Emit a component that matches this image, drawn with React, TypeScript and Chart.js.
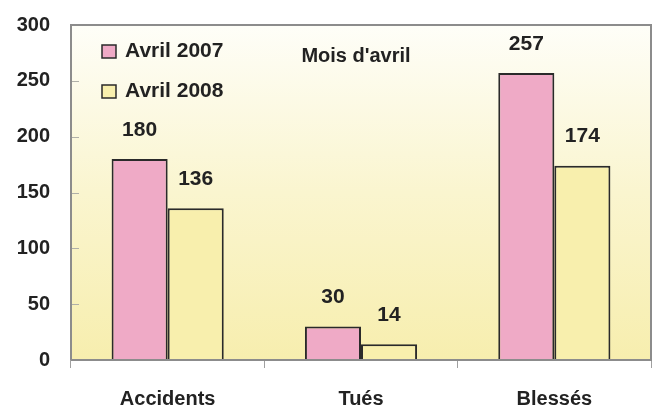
import React, { useEffect, useRef } from "react";
import { Chart, registerables } from "chart.js";

Chart.register(...registerables);

const categories = ["Accidents", "Tués", "Blessés"];
const avril2007 = [180, 30, 257];
const avril2008 = [136, 14, 174];
const seriesNames = ["Avril 2007", "Avril 2008"];
const yTicks = [0, 50, 100, 150, 200, 250, 300];
const chartTitle = "Mois d'avril";

const PINK = "#efaac6";
const YELLOW = "#f8efad";
const FONT = "'Liberation Sans', Arial, sans-serif";
const TEXT = "#222222";

const decorPlugin = {
  id: "decor",
  beforeDatasetsDraw(chart: any) {
    const { ctx, chartArea } = chart;
    const { left, top, right, bottom } = chartArea;
    ctx.save();
    const g = ctx.createLinearGradient(0, top, 0, bottom);
    g.addColorStop(0, "#fefef8");
    g.addColorStop(0.5, "#faf5cf");
    g.addColorStop(1, "#f7eeae");
    ctx.fillStyle = g;
    ctx.fillRect(left, top, right - left, bottom - top);
    const ys = chart.scales.y;
    ctx.strokeStyle = "#b0b0a8";
    ctx.lineWidth = 1;
    yTicks.forEach((v) => {
      if (v === 0 || v === 300) return;
      const y = Math.round(ys.getPixelForValue(v)) + 0.5;
      ctx.beginPath();
      ctx.moveTo(left, y);
      ctx.lineTo(left + 8, y);
      ctx.stroke();
    });
    ctx.restore();
  },
  afterDatasetsDraw(chart: any) {
    const { ctx, chartArea } = chart;
    const { left, top, right, bottom } = chartArea;
    ctx.save();
    ctx.strokeStyle = "#8c8c8c";
    ctx.lineWidth = 2;
    ctx.beginPath();
    ctx.moveTo(left, bottom);
    ctx.lineTo(left, top);
    ctx.lineTo(right, top);
    ctx.lineTo(right, bottom);
    ctx.lineTo(left, bottom);
    ctx.stroke();

    ctx.fillStyle = TEXT;
    ctx.font = `bold 21px ${FONT}`;
    ctx.textAlign = "center";
    ctx.textBaseline = "middle";
    chart.data.datasets.forEach((ds: any, i: number) => {
      const meta = chart.getDatasetMeta(i);
      meta.data.forEach((bar: any, j: number) => {
        ctx.fillText(String(ds.data[j]), bar.x, bar.y - 29);
      });
    });

    const colors = [PINK, YELLOW];
    ctx.textAlign = "left";
    seriesNames.forEach((name, i) => {
      const y = 51 + i * 40;
      ctx.fillStyle = colors[i];
      ctx.fillRect(102, y - 6, 14, 13);
      ctx.strokeStyle = "#2a2a2a";
      ctx.lineWidth = 1.5;
      ctx.strokeRect(102, y - 6, 14, 13);
      ctx.fillStyle = TEXT;
      ctx.fillText(name, 125, y);
    });

    ctx.textAlign = "center";
    ctx.font = `bold 20px ${FONT}`;
    ctx.fillText(chartTitle, 356, 56);
    ctx.restore();
  },
};

export default function App() {
  const ref = useRef<HTMLCanvasElement>(null);
  useEffect(() => {
    document.body.style.margin = "0";
    const chart = new Chart(ref.current!, {
      type: "bar",
      data: {
        labels: categories,
        datasets: [
          {
            label: seriesNames[0],
            data: avril2007,
            backgroundColor: PINK,
            borderColor: "#2a2a2a",
            borderWidth: 2,
            categoryPercentage: 0.58,
            barPercentage: 1,
          },
          {
            label: seriesNames[1],
            data: avril2008,
            backgroundColor: YELLOW,
            borderColor: "#2a2a2a",
            borderWidth: 2,
            categoryPercentage: 0.58,
            barPercentage: 1,
          },
        ],
      },
      options: {
        responsive: false,
        animation: false,
        layout: { padding: { top: 14, right: 1, left: 0, bottom: 0 } },
        plugins: {
          legend: { display: false },
          tooltip: { enabled: false },
          title: { display: false },
        },
        scales: {
          x: {
            grid: {
              display: true,
              drawOnChartArea: false,
              offset: true,
              tickLength: 8,
              color: "#a0a0a0",
            },
            border: { display: false },
            ticks: {
              color: TEXT,
              font: { family: FONT, size: 20, weight: "bold" },
              padding: 19,
            },
            afterFit: (s: any) => {
              s.height = 56;
            },
          },
          y: {
            min: 0,
            max: 300,
            grid: { display: false },
            border: { display: false },
            ticks: {
              stepSize: 50,
              color: TEXT,
              font: { family: FONT, size: 20, weight: "bold" },
              padding: 13,
            },
            afterFit: (s: any) => {
              s.width = 71;
            },
          },
        },
      },
      plugins: [decorPlugin],
    } as any);
    return () => chart.destroy();
  }, []);
  return <canvas ref={ref} width={652} height={416} />;
}
